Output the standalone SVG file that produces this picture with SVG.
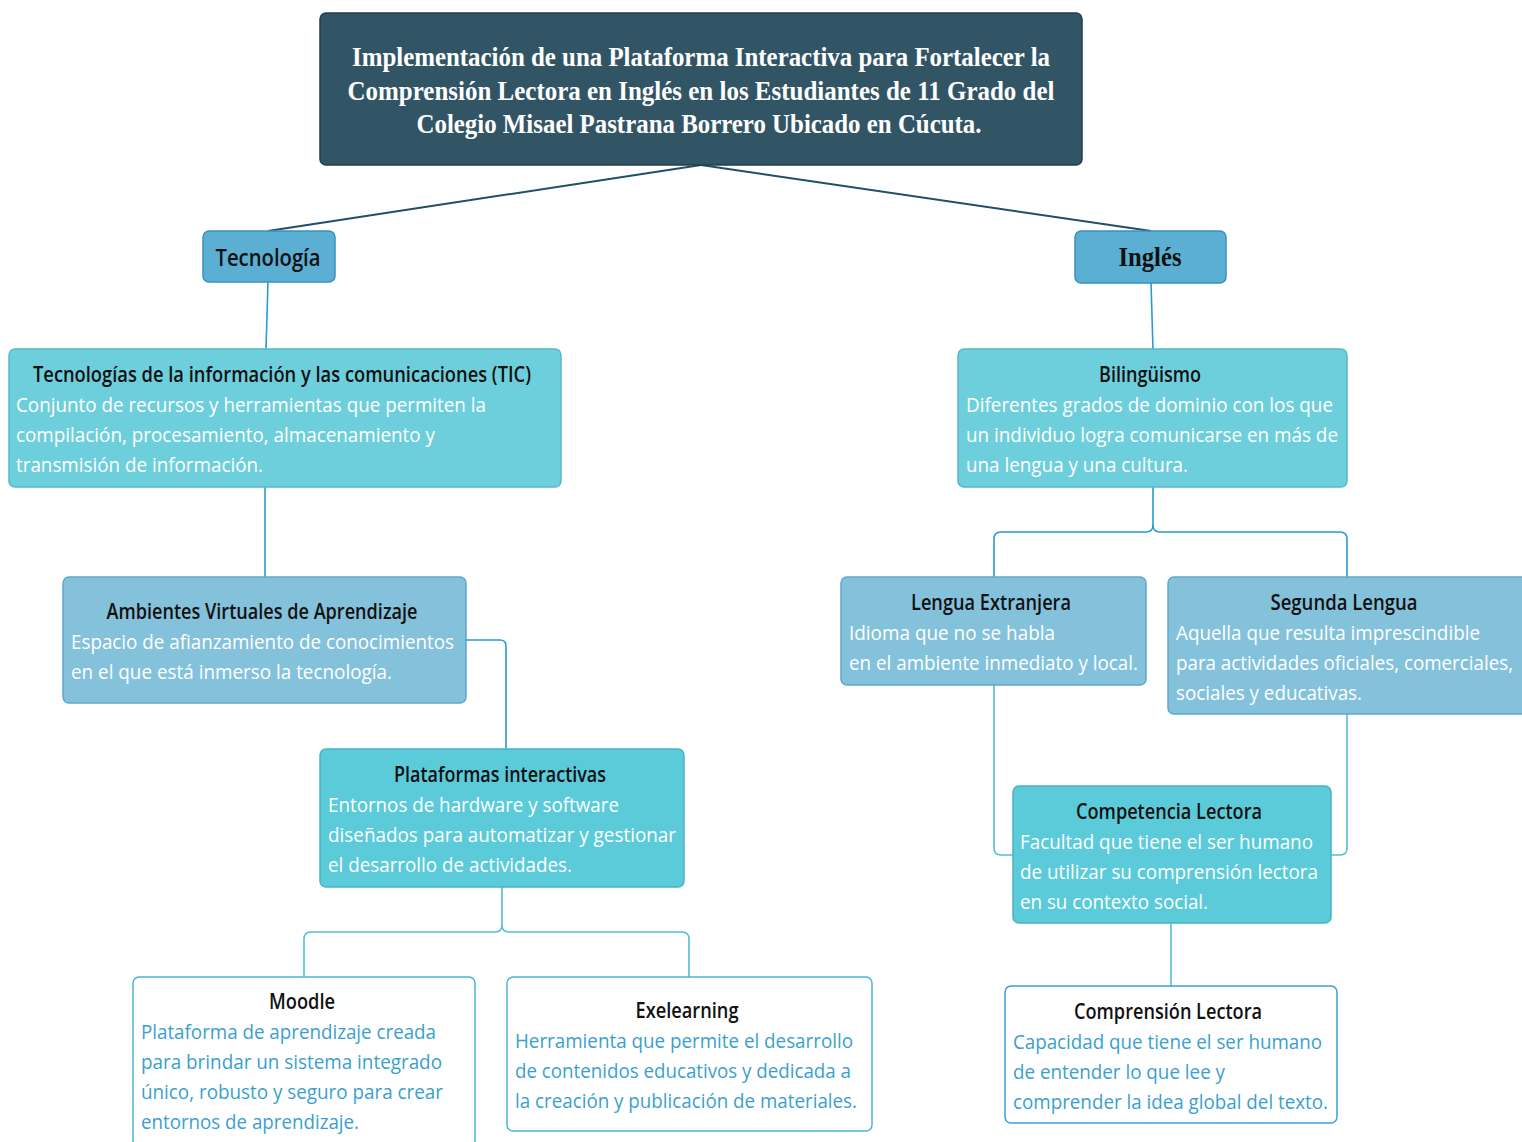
<svg xmlns="http://www.w3.org/2000/svg" width="1522" height="1142" viewBox="0 0 1522 1142">
<style>
.box{stroke-width:1.5}
.title{fill:#325566;stroke:#243e4b}
.l1{fill:#5aafd3;stroke:#3a92bf}
.l2{fill:#6ecfdc;stroke:#58b8c8}
.l3{fill:#84c2dc;stroke:#5fa7cb}
.l4{fill:#5bcbda;stroke:#47b4c4}
.wb{fill:#ffffff;stroke:#4bb5d6}
.serif{font-family:"Liberation Serif","Times New Roman",serif;font-weight:bold}
.sans{font-family:"Open Sans","Noto Sans","Liberation Sans",sans-serif}
.ttl{fill:#ffffff;font-size:28px}
.hd{fill:#111111;font-size:21px;font-weight:600}
.bd{fill:#ffffff;font-size:19.5px}
.bb{fill:#3a9fd0;font-size:19.5px}
.c-dark{stroke:#1f4f6a;stroke-width:2;fill:none}
.c-blue{stroke:#2a9ad4;stroke-width:1.6;fill:none}
.c-cyan{stroke:#52bfd3;stroke-width:1.6;fill:none}
</style>
<rect width="1522" height="1142" fill="#ffffff"/>
<g id="connectors">
<path class="c-dark" d="M701,165 L268,231"/>
<path class="c-dark" d="M701,165 L1151,231"/>
<path class="c-blue" d="M268,282 L266,349"/>
<path class="c-blue" d="M1151,283 L1153,349"/>
<path class="c-blue" d="M265,487 V577"/>
<path class="c-blue" d="M466,640 H500 Q506,640 506,646 V749"/>
<path class="c-cyan" d="M502,887 V925 Q502,932 495,932 H311 Q304,932 304,939 V977"/>
<path class="c-cyan" d="M502,925 Q502,932 509,932 H682 Q689,932 689,939 V977"/>
<path class="c-blue" d="M1153,487 V525 Q1153,532 1146,532 H1001 Q994,532 994,539 V577"/>
<path class="c-blue" d="M1153,525 Q1153,532 1160,532 H1340 Q1347,532 1347,539 V577"/>
<path class="c-cyan" d="M994,685 V848 Q994,855 1001,855 H1013"/>
<path class="c-cyan" d="M1347,714 V848 Q1347,855 1340,855 H1331"/>
<path class="c-cyan" d="M1171,923 V986"/>
</g>
<g id="root">
<rect class="box title" x="320" y="13" width="762" height="152" rx="6"/>
<text class="serif ttl" x="701" y="66" text-anchor="middle" textLength="698" lengthAdjust="spacingAndGlyphs">Implementación de una Plataforma Interactiva para Fortalecer la</text>
<text class="serif ttl" x="701" y="100" text-anchor="middle" textLength="707" lengthAdjust="spacingAndGlyphs">Comprensión Lectora en Inglés en los Estudiantes de 11 Grado del</text>
<text class="serif ttl" x="699" y="133" text-anchor="middle" textLength="565" lengthAdjust="spacingAndGlyphs">Colegio Misael Pastrana Borrero Ubicado en Cúcuta.</text>
</g>
<g id="tecnologia">
<rect class="box l1" x="203" y="231" width="132" height="51" rx="6"/>
<text class="sans" x="268" y="266" text-anchor="middle" font-size="24" font-weight="600" fill="#111" textLength="105" lengthAdjust="spacingAndGlyphs">Tecnología</text>
</g>
<g id="ingles">
<rect class="box l1" x="1075" y="231" width="151" height="52" rx="6"/>
<text class="serif" x="1150" y="266" text-anchor="middle" font-size="27" fill="#111" textLength="63" lengthAdjust="spacingAndGlyphs">Inglés</text>
</g>
<g id="tic">
<rect class="box l2" x="9" y="349" width="552" height="138" rx="6"/>
<text class="sans hd" x="282" y="382" text-anchor="middle" textLength="498" lengthAdjust="spacingAndGlyphs">Tecnologías de la información y las comunicaciones (TIC)</text>
<text class="sans bd" x="16" y="412" textLength="470" lengthAdjust="spacingAndGlyphs">Conjunto de recursos y herramientas que permiten la</text>
<text class="sans bd" x="16" y="442" textLength="419" lengthAdjust="spacingAndGlyphs">compilación, procesamiento, almacenamiento y</text>
<text class="sans bd" x="16" y="472" textLength="247" lengthAdjust="spacingAndGlyphs">transmisión de información.</text>
</g>
<g id="ambientes">
<rect class="box l3" x="63" y="577" width="403" height="126" rx="6"/>
<text class="sans hd" x="262" y="619" text-anchor="middle" textLength="311" lengthAdjust="spacingAndGlyphs">Ambientes Virtuales de Aprendizaje</text>
<text class="sans bd" x="71" y="649" textLength="383" lengthAdjust="spacingAndGlyphs">Espacio de afianzamiento de conocimientos</text>
<text class="sans bd" x="71" y="679" textLength="321" lengthAdjust="spacingAndGlyphs">en el que está inmerso la tecnología.</text>
</g>
<g id="plataformas">
<rect class="box l4" x="320" y="749" width="364" height="138" rx="6"/>
<text class="sans hd" x="500" y="782" text-anchor="middle" textLength="212" lengthAdjust="spacingAndGlyphs">Plataformas interactivas</text>
<text class="sans bd" x="328" y="812" textLength="291" lengthAdjust="spacingAndGlyphs">Entornos de hardware y software</text>
<text class="sans bd" x="328" y="842" textLength="348" lengthAdjust="spacingAndGlyphs">diseñados para automatizar y gestionar</text>
<text class="sans bd" x="328" y="872" textLength="244" lengthAdjust="spacingAndGlyphs">el desarrollo de actividades.</text>
</g>
<g id="moodle">
<rect class="box wb" x="133" y="977" width="342" height="170" rx="6"/>
<text class="sans hd" x="302" y="1009" text-anchor="middle" textLength="66" lengthAdjust="spacingAndGlyphs">Moodle</text>
<text class="sans bb" x="141" y="1039" textLength="295" lengthAdjust="spacingAndGlyphs">Plataforma de aprendizaje creada</text>
<text class="sans bb" x="141" y="1069" textLength="301" lengthAdjust="spacingAndGlyphs">para brindar un sistema integrado</text>
<text class="sans bb" x="141" y="1099" textLength="302" lengthAdjust="spacingAndGlyphs">único, robusto y seguro para crear</text>
<text class="sans bb" x="141" y="1129" textLength="218" lengthAdjust="spacingAndGlyphs">entornos de aprendizaje.</text>
</g>
<g id="exelearning">
<rect class="box wb" x="507" y="977" width="365" height="154" rx="6"/>
<text class="sans hd" x="687" y="1018" text-anchor="middle" textLength="103" lengthAdjust="spacingAndGlyphs">Exelearning</text>
<text class="sans bb" x="515" y="1048" textLength="338" lengthAdjust="spacingAndGlyphs">Herramienta que permite el desarrollo</text>
<text class="sans bb" x="515" y="1078" textLength="336" lengthAdjust="spacingAndGlyphs">de contenidos educativos y dedicada a</text>
<text class="sans bb" x="515" y="1108" textLength="342" lengthAdjust="spacingAndGlyphs">la creación y publicación de materiales.</text>
</g>
<g id="bilinguismo">
<rect class="box l2" x="958" y="349" width="389" height="138" rx="6"/>
<text class="sans hd" x="1150" y="382" text-anchor="middle" textLength="102" lengthAdjust="spacingAndGlyphs">Bilingüismo</text>
<text class="sans bd" x="966" y="412" textLength="367" lengthAdjust="spacingAndGlyphs">Diferentes grados de dominio con los que</text>
<text class="sans bd" x="966" y="442" textLength="372" lengthAdjust="spacingAndGlyphs">un individuo logra comunicarse en más de</text>
<text class="sans bd" x="966" y="472" textLength="222" lengthAdjust="spacingAndGlyphs">una lengua y una cultura.</text>
</g>
<g id="lengua-extranjera">
<rect class="box l3" x="841" y="577" width="305" height="108" rx="6"/>
<text class="sans hd" x="991" y="610" text-anchor="middle" textLength="160" lengthAdjust="spacingAndGlyphs">Lengua Extranjera</text>
<text class="sans bd" x="849" y="640" textLength="206" lengthAdjust="spacingAndGlyphs">Idioma que no se habla</text>
<text class="sans bd" x="849" y="670" textLength="289" lengthAdjust="spacingAndGlyphs">en el ambiente inmediato y local.</text>
</g>
<g id="segunda-lengua">
<rect class="box l3" x="1168" y="577" width="360" height="137" rx="6"/>
<text class="sans hd" x="1344" y="610" text-anchor="middle" textLength="147" lengthAdjust="spacingAndGlyphs">Segunda Lengua</text>
<text class="sans bd" x="1176" y="640" textLength="304" lengthAdjust="spacingAndGlyphs">Aquella que resulta imprescindible</text>
<text class="sans bd" x="1176" y="670" textLength="337" lengthAdjust="spacingAndGlyphs">para actividades oficiales, comerciales,</text>
<text class="sans bd" x="1176" y="700" textLength="186" lengthAdjust="spacingAndGlyphs">sociales y educativas.</text>
</g>
<g id="competencia">
<rect class="box l4" x="1013" y="786" width="318" height="137" rx="6"/>
<text class="sans hd" x="1169" y="819" text-anchor="middle" textLength="186" lengthAdjust="spacingAndGlyphs">Competencia Lectora</text>
<text class="sans bd" x="1020" y="849" textLength="293" lengthAdjust="spacingAndGlyphs">Facultad que tiene el ser humano</text>
<text class="sans bd" x="1020" y="879" textLength="298" lengthAdjust="spacingAndGlyphs">de utilizar su comprensión lectora</text>
<text class="sans bd" x="1020" y="909" textLength="188" lengthAdjust="spacingAndGlyphs">en su contexto social.</text>
</g>
<g id="comprension">
<rect class="box wb" x="1005" y="986" width="332" height="137" rx="6" style="stroke:#3c9fd6"/>
<text class="sans hd" x="1168" y="1019" text-anchor="middle" textLength="188" lengthAdjust="spacingAndGlyphs">Comprensión Lectora</text>
<text class="sans bb" x="1013" y="1049" textLength="309" lengthAdjust="spacingAndGlyphs">Capacidad que tiene el ser humano</text>
<text class="sans bb" x="1013" y="1079" textLength="212" lengthAdjust="spacingAndGlyphs">de entender lo que lee y</text>
<text class="sans bb" x="1013" y="1109" textLength="315" lengthAdjust="spacingAndGlyphs">comprender la idea global del texto.</text>
</g>
</svg>
